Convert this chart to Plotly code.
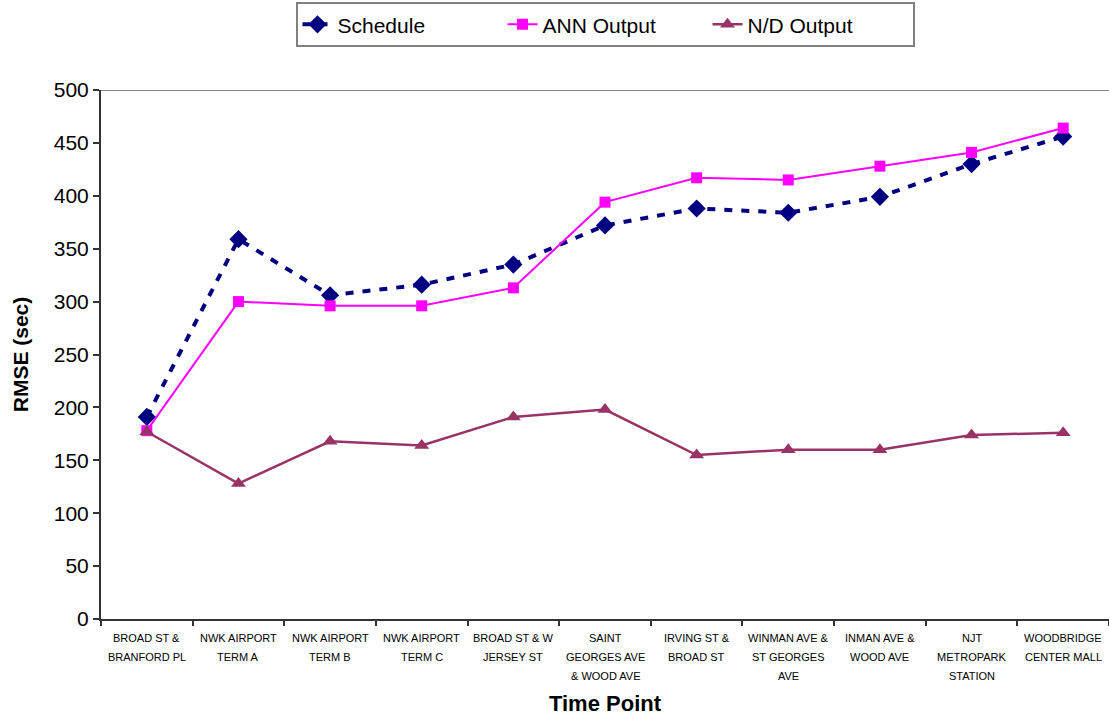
import plotly.graph_objects as go

# Time points along the route (each label split into display lines)
time_points = [
    ["BROAD ST &", "BRANFORD PL"],
    ["NWK AIRPORT", "TERM A"],
    ["NWK AIRPORT", "TERM B"],
    ["NWK AIRPORT", "TERM C"],
    ["BROAD ST & W", "JERSEY ST"],
    ["SAINT", "GEORGES AVE", "& WOOD AVE"],
    ["IRVING ST &", "BROAD ST"],
    ["WINMAN AVE &", "ST GEORGES", "AVE"],
    ["INMAN AVE &", "WOOD AVE"],
    ["NJT", "METROPARK", "STATION"],
    ["WOODBRIDGE", "CENTER MALL"],
]
categories = [" ".join(lines) for lines in time_points]

# RMSE (sec) per time point
schedule = [191, 359, 306, 316, 335, 372, 388, 384, 399, 430, 456]
ann_output = [178, 300, 296, 296, 313, 394, 417, 415, 428, 441, 464]
nd_output = [177, 128, 168, 164, 191, 198, 155, 160, 160, 174, 176]

y_ticks = [0, 50, 100, 150, 200, 250, 300, 350, 400, 450, 500]

FONT = "Arial, Liberation Sans, sans-serif"

fig = go.Figure()
fig.add_trace(go.Scatter(
    x=categories, y=schedule, name="Schedule", mode="lines+markers",
    line=dict(color="#000080", width=4, dash="8px,9px"),
    marker=dict(symbol="diamond", size=14, color="#000080"),
))
fig.add_trace(go.Scatter(
    x=categories, y=ann_output, name="ANN Output", mode="lines+markers",
    line=dict(color="#FF00FF", width=2),
    marker=dict(symbol="square", size=11, color="#FF00FF"),
))
fig.add_trace(go.Scatter(
    x=categories, y=nd_output, name="N/D Output", mode="lines+markers",
    line=dict(color="#993366", width=2.5),
    marker=dict(symbol="triangle-up", size=13, color="#993366"),
))

# multi-line category labels under the x axis
annotations = []
for cat, lines in zip(categories, time_points):
    for i, txt in enumerate(lines):
        annotations.append(dict(
            x=cat, y=0, xref="x", yref="y", text=txt, showarrow=False,
            yanchor="middle", xanchor="center", yshift=-19 * (i + 1),
            font=dict(family=FONT, size=11, color="#000000"),
        ))

fig.update_layout(
    width=1109, height=723,
    margin=dict(l=101, r=0, t=90, b=104),
    paper_bgcolor="white", plot_bgcolor="white",
    font=dict(family=FONT, color="#000000"),
    showlegend=True,
    legend=dict(
        orientation="h", x=0.5, xanchor="center", y=1.166, yanchor="top",
        font=dict(family=FONT, size=21, color="#000000"),
        bordercolor="#808080", borderwidth=2, bgcolor="white",
        entrywidth=160, entrywidthmode="pixels",
    ),
    xaxis=dict(
        range=[-0.5, len(categories) - 0.5],
        showticklabels=False, showgrid=False, zeroline=False,
        showline=True, linecolor="#333333", linewidth=2,
        ticks="outside", tickson="boundaries", ticklen=5,
        tickcolor="#333333", tickwidth=1.5,
        title=dict(text="<b>Time Point</b>", font=dict(family=FONT, size=22),
                   standoff=76),
    ),
    yaxis=dict(
        range=[0, 500], tickvals=y_ticks, showgrid=False, zeroline=False,
        showline=True, linecolor="#333333", linewidth=2,
        ticks="outside", ticklen=6, tickcolor="#333333", tickwidth=1.5,
        tickfont=dict(family=FONT, size=21, color="#000000"),
        title=dict(text="<b>RMSE (sec)</b>", font=dict(family=FONT, size=21),
                   standoff=19),
    ),
    shapes=[dict(type="line", xref="paper", yref="y", x0=0, x1=1, y0=500, y1=500,
                 line=dict(color="#808080", width=2), layer="below")],
    annotations=annotations,
)

fig.write_html("out.html")
